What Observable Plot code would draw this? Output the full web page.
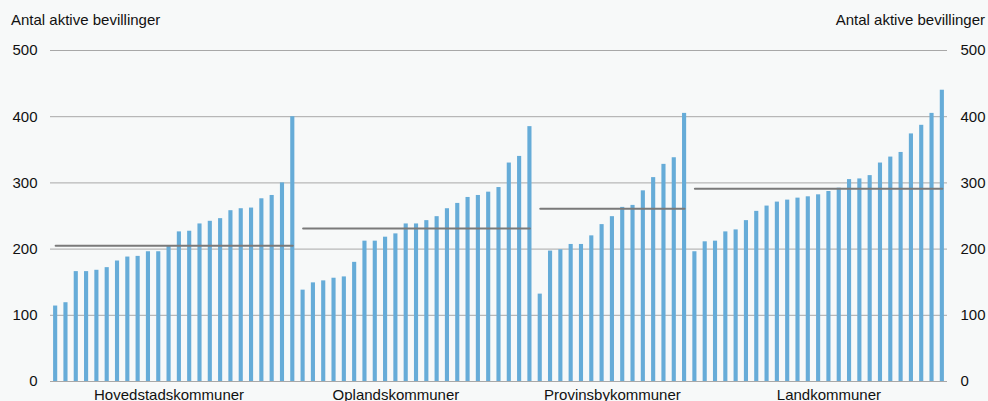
<!DOCTYPE html>
<html>
<head>
<meta charset="utf-8">
<script src="https://cdn.jsdelivr.net/npm/d3@7"></script>
<script src="https://cdn.jsdelivr.net/npm/@observablehq/plot@0.6"></script>
<style>
  html, body { margin: 0; padding: 0; background: #f7f9f9; }
  body { width: 988px; height: 401px; overflow: hidden; font-family: "Liberation Sans", Arial, Helvetica, sans-serif; }
  #head { height: 36px; box-sizing: border-box; padding: 11px 3px 0 11px; display: flex; justify-content: space-between; font-size: 15px; line-height: 18px; color: #111; }
  svg { display: block; }
</style>
</head>
<body>
<div id="head"><span>Antal aktive bevillinger</span><span>Antal aktive bevillinger</span></div>
<div id="chart"></div>
<script>
const groups = ["Hovedstadskommuner", "Oplandskommuner", "Provinsbykommuner", "Landkommuner"];
const hovedstad = [114, 119, 166, 166, 168, 172, 182, 188, 189, 196, 196, 204, 226, 227, 238, 242, 246, 258, 261, 262, 276, 281, 300, 400];
const opland = [138, 149, 152, 156, 158, 180, 212, 212, 218, 223, 238, 238, 243, 249, 261, 269, 278, 281, 286, 293, 330, 340, 385];
const provinsby = [132, 197, 199, 207, 207, 220, 237, 249, 263, 266, 288, 308, 328, 338, 405];
const land = [196, 211, 212, 226, 229, 243, 257, 265, 271, 274, 277, 279, 282, 287, 292, 305, 306, 311, 330, 339, 346, 374, 387, 405, 440];
const averages = [205, 231, 261, 291];
const labelBar = [11, 9, 7, 13];
const yTicks = [0, 100, 200, 300, 400, 500];

const series = [hovedstad, opland, provinsby, land];
const bars = [];
series.forEach((vals, g) => vals.forEach((v, i) => bars.push({group: groups[g], key: `${g}-${i}`, value: v})));
const avgLines = [];
series.forEach((vals, g) => {
  avgLines.push({group: groups[g], key: `${g}-0`, value: averages[g]});
  avgLines.push({group: groups[g], key: `${g}-${vals.length - 1}`, value: averages[g]});
});
const labels = groups.map((name, g) => ({name, key: `${g}-${labelBar[g]}`}));

const chart = Plot.plot({
  width: 988,
  height: 365,
  marginTop: 14,
  marginBottom: 20,
  marginLeft: 50,
  marginRight: 41,
  style: {background: "#f7f9f9", fontFamily: "'Liberation Sans', Arial, Helvetica, sans-serif", fontSize: "15px", color: "#111"},
  x: {domain: bars.map(d => d.key), paddingInner: 0.6, paddingOuter: 0.3, round: false, axis: null},
  y: {domain: [0, 500], ticks: yTicks},
  marks: [
    Plot.gridY(yTicks, {stroke: "#a8a8a8", strokeOpacity: 1, strokeWidth: 1}),
    Plot.axisY(yTicks, {anchor: "left", tickSize: 0, tickPadding: 13, label: null, fontSize: 15}),
    Plot.axisY(yTicks, {anchor: "right", tickSize: 0, tickPadding: 13, label: null, fontSize: 15}),
    Plot.barY(bars, {x: "key", y: "value", fill: "#66acd8"}),
    Plot.lineY(avgLines, {x: "key", y: "value", z: "group", stroke: "#7a7a7a", strokeWidth: 2}),
    Plot.text(labels, {x: "key", text: "name", frameAnchor: "bottom", lineAnchor: "bottom", dy: 18, fontSize: 15, fill: "#111"})
  ]
});
document.getElementById("chart").appendChild(chart);
</script>
</body>
</html>
